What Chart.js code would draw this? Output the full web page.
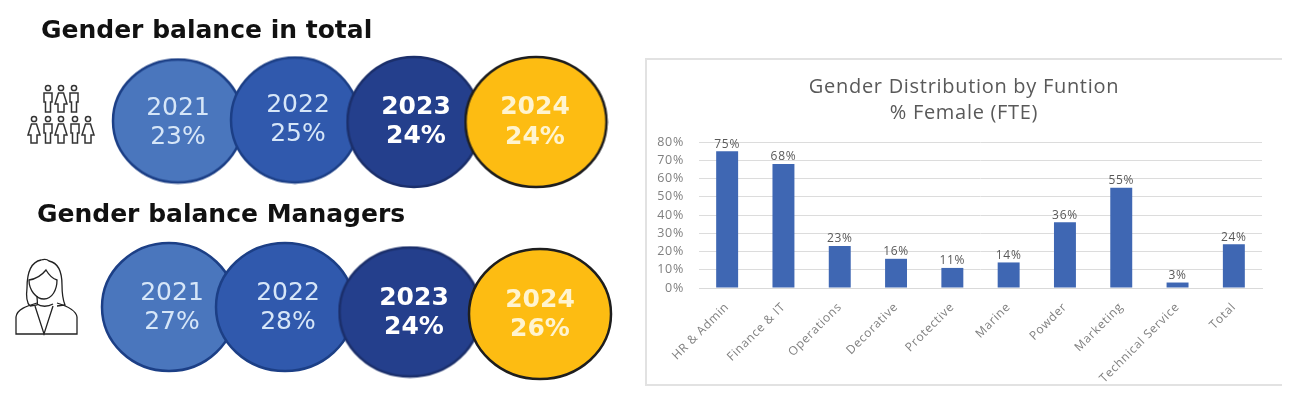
<!DOCTYPE html>
<html>
<head>
<meta charset="utf-8">
<title>Gender balance</title>
<script src="https://cdn.jsdelivr.net/npm/chart.js@4"></script>
<style>
  body { margin: 0; background: #fff; width: 1303px; height: 396px; overflow: hidden; position: relative; }
  #page { position: absolute; left: 0; top: 0; width: 1303px; height: 396px; filter: blur(0.5px); }
  h2 { position: absolute; margin: 0; font: bold 25px "DejaVu Sans", sans-serif; color: #111; white-space: nowrap; }
  #total { left: 41px; top: 15px; }
  #managers { left: 37px; top: 199px; }
  #circles { position: absolute; left: 0; top: 0; }
  #icons { position: absolute; left: 0; top: 0; }
  #panel { position: absolute; left: 645px; top: 58px; width: 635px; height: 324px; border: 2px solid #e2e2e2; border-right: none; }
  #bars { position: absolute; left: 646px; top: 59px; }
</style>
</head>
<body>
<div id="page">
<canvas id="circles" width="640" height="396"></canvas>
<h2 id="total">Gender balance in total</h2>
<h2 id="managers">Gender balance Managers</h2>

<svg id="icons" width="110" height="396" fill="none" stroke="#333">
  <defs>
    <g id="man" stroke-width="1.5">
      <circle cx="0" cy="3" r="2.6"/>
      <path d="M-4 8h8v9h-1.5v10h-5v-10h-1.5z"/>
    </g>
    <g id="woman" stroke-width="1.5">
      <circle cx="0" cy="3" r="2.6"/>
      <path d="M-2.5 8h5l3.5 11h-3v8h-6v-8h-3z"/>
    </g>
  </defs>
  <use href="#man" x="48" y="85"/><use href="#woman" x="61" y="85"/><use href="#man" x="74" y="85"/>
  <use href="#woman" x="34" y="116"/><use href="#man" x="48" y="116"/><use href="#woman" x="61" y="116"/>
  <use href="#man" x="75" y="116"/><use href="#woman" x="88" y="116"/>
  <g stroke="#222" stroke-width="1.3">
    <path d="M30 306c-4-4-4-10-3-18 0-16 4-26 14-28 3-1 6-1 8 1 10 2 13 12 13 24 0 8 1 15 3 20l-8 1"/>
    <path d="M30 306l7-1c1-1 0-5 0-9"/>
    <path d="M29 280c7-1 13-5 17-10 3 5 7 9 11 10 0 10-5 19-13 19s-15-9-15-19z"/>
    <path d="M37 303c-10 3-20 6-21 14v17h61v-17c-1-7-10-11-20-14"/>
    <path d="M35 306l9 28 9-28M37 304c4 3 11 3 16 0"/>
  </g>
</svg>

<div id="panel"></div>
<canvas id="bars" width="636" height="326"></canvas>
</div>

<script>
const years = ["2021", "2022", "2023", "2024"];
const totalShare = ["23%", "25%", "24%", "24%"];
const managerShare = ["27%", "28%", "24%", "26%"];

// where the ovals sit on the left panel
const totalSpots = [{x: 178, y: 121}, {x: 295, y: 120}, {x: 414, y: 122}, {x: 536, y: 122}];
const managerSpots = [{x: 169, y: 307}, {x: 285, y: 307}, {x: 410, y: 312}, {x: 540, y: 314}];
const totalSizes = [[130, 123], [128, 125], [133, 130], [141, 130]];
const managerSizes = [[134, 128], [138, 128], [141, 129], [142, 130]];
const totalTextSpots = [[178, 108, 137], [298, 105, 134], [416, 107, 136], [535, 107, 137]];
const managerTextSpots = [[172, 293, 322], [288, 293, 322], [414, 298, 327], [540, 300, 329]];

const fills = ["#4a76bd", "#3059ad", "#243f8c", "#fdbc12"];
const rims = ["#1c3f86", "#1c3f86", "#1b2f6b", "#1e1e1e"];
const textColors = ["#d6e6f8", "#d6e6f8", "#ffffff", "#fff4cf"];

const functions = ["HR & Admin", "Finance & IT", "Operations", "Decorative", "Protective", "Marine", "Powder", "Marketing", "Technical Service", "Total"];
const femaleShare = [75, 68, 23, 16, 11, 14, 36, 55, 3, 24];
const percentTicks = [0, 10, 20, 30, 40, 50, 60, 70, 80];

function makeOval(size, fill, rim) {
  const c = document.createElement("canvas");
  c.width = size[0] + 4;
  c.height = size[1] + 4;
  const ctx = c.getContext("2d");
  ctx.beginPath();
  ctx.ellipse(c.width / 2, c.height / 2, size[0] / 2, size[1] / 2, 0, 0, Math.PI * 2);
  ctx.fillStyle = fill;
  ctx.fill();
  ctx.lineWidth = 2.5;
  ctx.strokeStyle = rim;
  ctx.stroke();
  return c;
}

// year and share inside each oval
const ovalText = {
  id: "ovalText",
  afterDatasetsDraw(chart) {
    const ctx = chart.ctx;
    const x = chart.scales.x, y = chart.scales.y;
    ctx.save();
    ctx.textAlign = "center";
    ctx.textBaseline = "middle";
    [[totalTextSpots, totalShare], [managerTextSpots, managerShare]].forEach(([spots, shares]) => {
      spots.forEach((s, i) => {
        ctx.font = (i >= 2 ? "bold " : "") + "25px 'DejaVu Sans'";
        ctx.fillStyle = textColors[i];
        ctx.fillText(years[i], x.getPixelForValue(s[0]), y.getPixelForValue(s[1]));
        ctx.fillText(shares[i], x.getPixelForValue(s[0]), y.getPixelForValue(s[2]));
      });
    });
    ctx.restore();
  }
};

new Chart(document.getElementById("circles"), {
  type: "scatter",
  data: {
    datasets: [
      { data: totalSpots, pointStyle: totalSizes.map((s, i) => makeOval(s, fills[i], rims[i])), pointRadius: 60 },
      { data: managerSpots, pointStyle: managerSizes.map((s, i) => makeOval(s, fills[i], rims[i])), pointRadius: 60 }
    ]
  },
  options: {
    responsive: false,
    animation: false,
    events: [],
    layout: { autoPadding: false },
    plugins: { legend: { display: false }, tooltip: { enabled: false } },
    scales: {
      x: { type: "linear", display: false, min: 0, max: 640 },
      y: { type: "linear", display: false, min: 0, max: 396, reverse: true }
    }
  },
  plugins: [ovalText]
});

// the source picture is stretched sideways, so all chart text runs a bit wide
const wideText = {
  id: "wideText",
  beforeDraw(chart) { chart.ctx.letterSpacing = "0.7px"; }
};

// percentage above each bar
const barLabels = {
  id: "barLabels",
  afterDatasetsDraw(chart) {
    const ctx = chart.ctx;
    ctx.save();
    ctx.font = "12px 'Open Sans'";
    ctx.fillStyle = "#595959";
    ctx.textAlign = "center";
    ctx.textBaseline = "bottom";
    chart.getDatasetMeta(0).data.forEach((bar, i) => {
      ctx.fillText(femaleShare[i] + "%", bar.x, bar.y - 1);
    });
    ctx.restore();
  }
};

new Chart(document.getElementById("bars"), {
  type: "bar",
  data: {
    labels: functions,
    datasets: [{ data: femaleShare, backgroundColor: "#3f67b3", barPercentage: 1, categoryPercentage: 0.39 }]
  },
  options: {
    responsive: false,
    animation: false,
    events: [],
    plugins: {
      legend: { display: false },
      tooltip: { enabled: false },
      title: {
        display: true,
        text: ["Gender Distribution by Funtion", "% Female (FTE)"],
        color: "#595959",
        font: { family: "Open Sans", size: 20, weight: "normal", lineHeight: 1.3 },
        padding: { top: 15, bottom: 16 }
      }
    },
    scales: {
      x: {
        grid: { display: false },
        border: { color: "#d9d9d9" },
        ticks: { color: "#7f7f7f", font: { family: "Open Sans", size: 12 }, minRotation: 45, maxRotation: 45, padding: 4 },
        afterFit(scale) { scale.height = 97; }
      },
      y: {
        min: 0,
        max: 80,
        grid: { color: "#dcdcdc", drawTicks: false },
        border: { display: false },
        afterBuildTicks(scale) { scale.ticks = percentTicks.map(v => ({ value: v })); },
        ticks: { color: "#7f7f7f", font: { family: "Open Sans", size: 12.5 }, padding: 15, callback: v => v + "%" },
        afterFit(scale) { scale.width = 53; }
      },
      // empty axis, keeps the gap right of the plot without moving the title off centre
      spacer: {
        position: "right",
        grid: { display: false },
        border: { display: false },
        ticks: { display: false },
        afterFit(scale) { scale.width = 20; }
      }
    }
  },
  plugins: [wideText, barLabels]
});
</script>
</body>
</html>
